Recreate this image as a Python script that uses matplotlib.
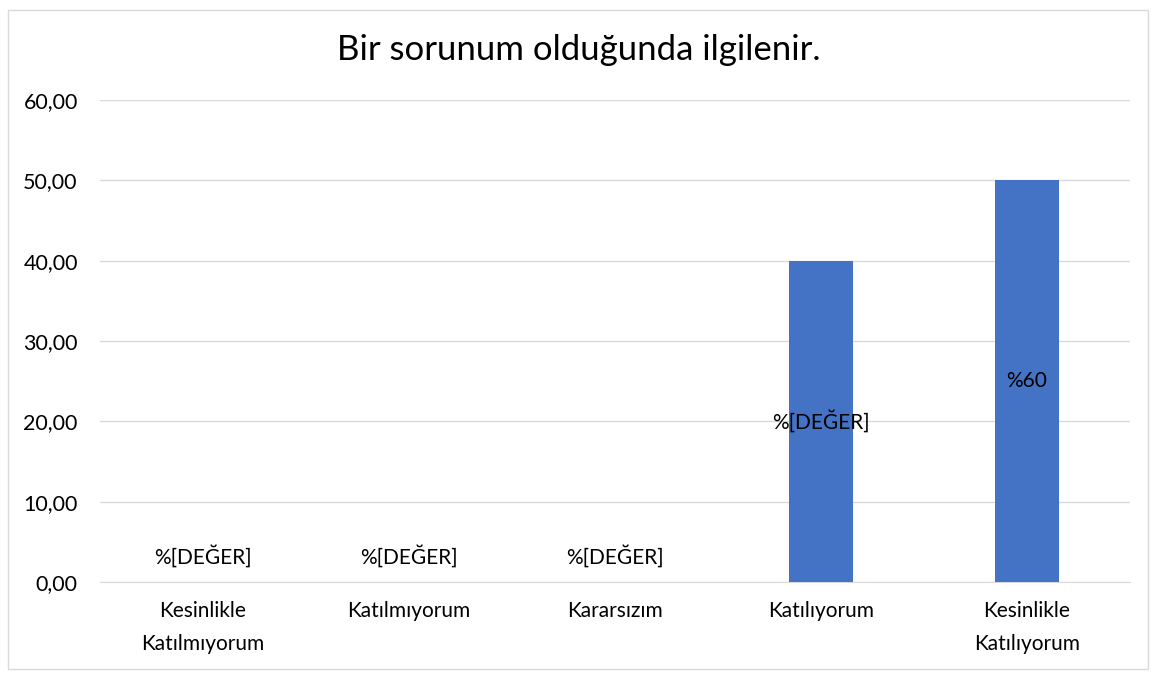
import numpy as np
import matplotlib.pyplot as plt
from matplotlib.patches import Rectangle

plt.rcParams['font.family'] = ['Lato', 'DejaVu Sans']

# veriler
kategoriler = ['Kesinlikle\nKatılmıyorum', 'Katılmıyorum', 'Kararsızım',
               'Katılıyorum', 'Kesinlikle\nKatılıyorum']
degerler = [0, 0, 0, 40, 50]
etiketler = ['%[DEĞER]', '%[DEĞER]', '%[DEĞER]', '%[DEĞER]', '%60']
y_ticks = [0, 10, 20, 30, 40, 50, 60]

fig = plt.figure(figsize=(11.58, 6.77), dpi=100)
ax = fig.add_axes([100 / 1158, 1 - 582 / 677, 1030 / 1158, 482 / 677])

x = np.arange(len(kategoriler))
ax.bar(x, degerler, width=0.315, color='#4472C4', zorder=3)

for xi, v, lab in zip(x, degerler, etiketler):
    yy = v / 2 if v > 0 else 3.2
    ax.text(xi, yy, lab, ha='center', va='center', fontsize=15, color='#000000', zorder=4)

ax.set_xlim(-0.5, 4.5)
ax.set_ylim(0, 60)
ax.set_yticks(y_ticks)
ax.set_yticklabels(['%d,00' % t for t in y_ticks], fontsize=15.5, color='#000000')
ax.set_xticks(x)
ax.set_xticklabels(kategoriler, fontsize=15, color='#000000', linespacing=1.8)
ax.tick_params(length=0, axis='both')
ax.tick_params(axis='y', pad=16)
ax.tick_params(axis='x', pad=14)
ax.grid(axis='y', color='#d9d9d9', linewidth=1, zorder=0)
for s in ['top', 'right', 'left']:
    ax.spines[s].set_visible(False)
ax.spines['bottom'].set_color('#d9d9d9')

fig.text(0.5, 1 - 50 / 677, 'Bir sorunum olduğunda ilgilenir.', ha='center', va='center',
         fontsize=25, color='#000000')

# dış çerçeve
fig.patches.append(Rectangle((8 / 1158, 8 / 677), 1140 / 1158, 659 / 677,
                             transform=fig.transFigure, fill=False,
                             edgecolor='#d9d9d9', linewidth=1))

plt.savefig('out.png', dpi=100)
